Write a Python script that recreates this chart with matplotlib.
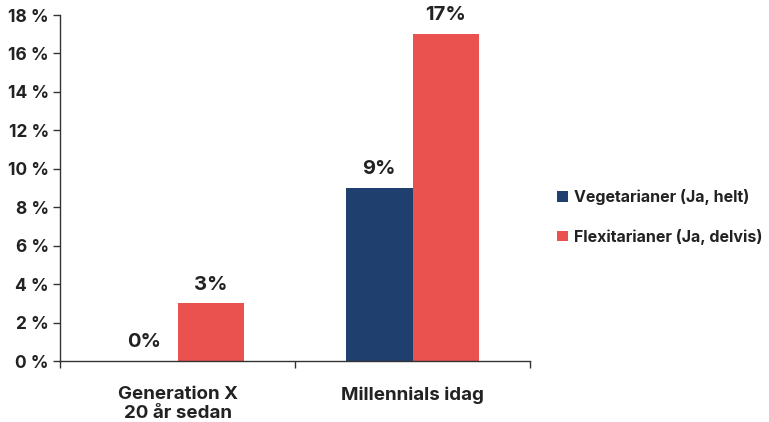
import numpy as np
import matplotlib.pyplot as plt

plt.rcParams['font.family'] = ['Inter', 'DejaVu Sans']

categories = ['Generation X\n20 år sedan', 'Millennials idag']
vegetarian = [0, 9]
flexitarian = [3, 17]
series_names = ['Vegetarianer (Ja, helt)', 'Flexitarianer (Ja, delvis)']
yticks = [0, 2, 4, 6, 8, 10, 12, 14, 16, 18]

navy = '#1f3f6e'
red = '#e9524f'
txt = '#222222'

fig = plt.figure(figsize=(7.69, 4.22), dpi=100)
ax = fig.add_axes([60 / 769, 1 - 361 / 422, 470 / 769, 346 / 422])

x = np.arange(len(categories))
w = 0.283
b1 = ax.bar(x - w / 2, vegetarian, w, color=navy, label=series_names[0])
b2 = ax.bar(x + w / 2, flexitarian, w, color=red, label=series_names[1])

# value labels above each bar
for bars, vals in ((b1, vegetarian), (b2, flexitarian)):
    for bar, v in zip(bars, vals):
        ax.annotate(f'{v}%', (bar.get_x() + bar.get_width() / 2, v),
                    xytext=(0, 7), textcoords='offset points',
                    ha='center', va='bottom', fontsize=14.5,
                    fontweight='bold', color=txt)

ax.set_xlim(-0.5, 1.5)
ax.set_ylim(0, 18)
ax.set_yticks(yticks)
ax.set_yticklabels([f'{t} %' for t in yticks], fontsize=12.5,
                   fontweight='bold', color=txt)
ax.set_xticks(x)
ax.set_xticklabels(categories, fontsize=13.5, fontweight='bold',
                   color=txt, linespacing=1.12)
ax.tick_params(axis='x', which='major', length=0, pad=18)
# ticks sit between the groups, not under them
ax.set_xticks([-0.5, 0.5, 1.5], minor=True)
ax.tick_params(axis='x', which='minor', length=5, width=1, color='#333333')
ax.tick_params(axis='y', length=5, width=1, color='#333333', pad=3)

for side in ('top', 'right'):
    ax.spines[side].set_visible(False)
for side in ('left', 'bottom'):
    ax.spines[side].set_color('#333333')
    ax.spines[side].set_linewidth(1)

fig.legend(loc='center left', bbox_to_anchor=(543 / 769, 1 - 217 / 422),
           frameon=False, handlelength=0.65, handleheight=0.65,
           handletextpad=0.4, labelspacing=1.45,
           prop={'size': 11.5, 'weight': 'bold'}, labelcolor=txt)

fig.savefig('out.png', dpi=100)
